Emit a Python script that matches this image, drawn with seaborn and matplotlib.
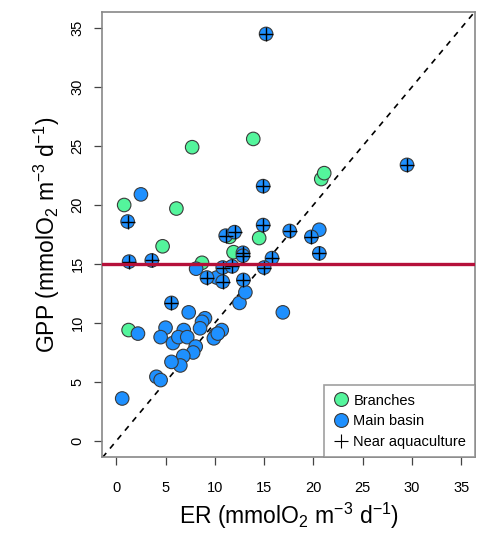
import matplotlib
matplotlib.use("Agg")
import matplotlib.pyplot as plt
from matplotlib.lines import Line2D
import seaborn as sns
import pandas as pd

# ---- data (ER, GPP in mmolO2 m-3 d-1) ----
branches_er = [0.8, 6.1, 4.7, 7.7, 13.9, 20.8, 21.1, 14.5, 11.5, 11.9, 8.7, 1.25]
branches_gpp = [20.0, 19.7, 16.5, 24.9, 25.6, 22.2, 22.7, 17.2, 17.3, 16.0, 15.1, 9.4]

main_er = [0.6, 2.5, 2.2, 7.35, 5.0, 4.5, 5.75, 6.85, 6.3, 7.2, 9.0, 8.7, 8.5,
           10.1, 10.7, 9.9, 10.3, 8.06, 7.8, 6.8, 6.5, 5.6, 4.07, 4.5, 12.5, 13.1,
           16.9, 8.1, 10.2, 20.6]
main_gpp = [3.6, 20.9, 9.1, 10.9, 9.6, 8.8, 8.3, 9.4, 8.8, 8.8, 10.4, 10.1, 9.55,
            9.0, 9.4, 8.7, 9.1, 8.0, 7.5, 7.2, 6.4, 6.7, 5.44, 5.16, 11.7, 12.6,
            10.9, 14.6, 13.85, 17.9]

aqua_er = [15.2, 14.9, 1.15, 14.9, 11.1, 12.0, 29.5, 17.6, 19.8, 20.6, 15.8, 15.0,
           12.85, 12.85, 12.9, 10.8, 11.75, 10.8, 9.2, 1.3, 3.6, 5.6]
aqua_gpp = [34.5, 21.6, 18.6, 18.3, 17.4, 17.7, 23.4, 17.8, 17.3, 15.9, 15.5, 14.7,
            15.95, 15.7, 13.65, 14.7, 14.8, 13.5, 13.85, 15.2, 15.3, 11.7]

threshold_gpp = 15
x_ticks = [0, 5, 10, 15, 20, 25, 30, 35]
y_ticks = [0, 5, 10, 15, 20, 25, 30, 35]
legend_labels = ["Branches", "Main basin", "Near aquaculture"]

green = "#54F59C"
blue = "#1E90FF"

sns.set_theme(style="white")
plt.rcParams["font.family"] = ["Liberation Sans", "DejaVu Sans"]
plt.rcParams["mathtext.fontset"] = "custom"
plt.rcParams["mathtext.rm"] = "Liberation Sans"
plt.rcParams["mathtext.it"] = "Liberation Sans:italic"
plt.rcParams["text.color"] = "black"
plt.rcParams["axes.labelcolor"] = "black"

fig = plt.figure(figsize=(4.78, 5.33), dpi=100)
ax = fig.add_axes([0.2144, 0.1417, 0.9937 - 0.2144, 0.9784 - 0.1417])

circles = pd.DataFrame({
    "ER": branches_er + main_er + aqua_er,
    "GPP": branches_gpp + main_gpp + aqua_gpp,
    "site": ["Branches"] * len(branches_er) + ["Main basin"] * (len(main_er) + len(aqua_er)),
})
aqua = pd.DataFrame({"ER": aqua_er, "GPP": aqua_gpp})

lo, hi = -1.4, 36.4
ax.axline((0, 0), slope=1, color="black", lw=1.2, ls=(0, (3.5, 3.5)), zorder=1)
ax.axhline(threshold_gpp, color="#B5103A", lw=2.4, zorder=5)

sns.scatterplot(data=circles, x="ER", y="GPP", hue="site",
                palette={"Branches": green, "Main basin": blue},
                s=95, edgecolor="#3a3a3a", linewidth=0.8, legend=False, ax=ax, zorder=3)
sns.scatterplot(data=aqua, x="ER", y="GPP", marker="+", color="black",
                s=110, linewidth=1.0, legend=False, ax=ax, zorder=4)

ax.set_xlim(lo, hi)
ax.set_ylim(lo, hi)
ax.set_xticks(x_ticks)
ax.set_yticks(y_ticks)
ax.tick_params(axis="both", direction="out", length=6, width=0.9, color="#444444",
               labelsize=10.5, labelcolor="black", bottom=True, left=True)
ax.tick_params(axis="x", pad=11)
ax.tick_params(axis="y", pad=7)
for lab in ax.get_yticklabels():
    lab.set_rotation(90)
    lab.set_va("center")
for sp in ax.spines.values():
    sp.set_color("#888888")
    sp.set_linewidth(1.2)

ax.set_xlabel(r"ER (mmolO$_2$ m$^{-3}$ d$^{-1}$)", fontsize=16.5, labelpad=4)
ax.set_ylabel(r"GPP (mmolO$_2$ m$^{-3}$ d$^{-1}$)", fontsize=16.5, labelpad=6)

handles = [
    Line2D([], [], marker="o", ls="", markerfacecolor=green, markeredgecolor="#3a3a3a",
           markersize=10, markeredgewidth=0.8),
    Line2D([], [], marker="o", ls="", markerfacecolor=blue, markeredgecolor="#3a3a3a",
           markersize=10, markeredgewidth=0.8),
    Line2D([], [], marker="+", ls="", color="black", markersize=10, markeredgewidth=0.8),
]
leg = ax.legend(handles, legend_labels, loc="lower right", fontsize=10.5,
                frameon=True, fancybox=False, borderpad=0.6, handletextpad=0.3,
                labelspacing=0.45, handlelength=1.1, borderaxespad=0)
leg.get_frame().set_edgecolor("#888888")
leg.get_frame().set_linewidth(1.2)
leg.set_zorder(10)

fig.savefig("out.png", dpi=100)
